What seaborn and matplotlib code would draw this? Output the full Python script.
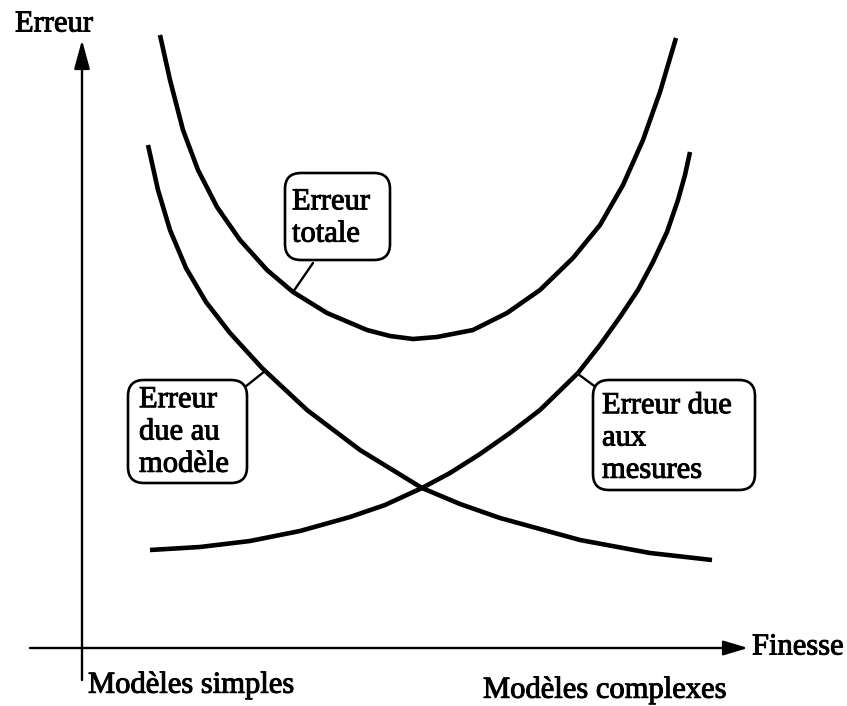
import matplotlib
matplotlib.use("Agg")
import matplotlib.pyplot as plt
from matplotlib.patches import FancyBboxPatch
import matplotlib.patheffects as pe
import pandas as pd
import seaborn as sns

# ---- data (x = finesse, y = erreur, arbitrary units) ----
total_x = [78, 88, 101, 116, 135, 158, 185, 211, 245, 285, 308, 331, 355, 391, 425, 458,
           491, 518, 541, 561, 578, 594]
total_y = [613, 568, 518, 478, 441, 408, 378, 356, 335, 318, 312, 309, 311, 318, 335, 358,
           390, 423, 463, 508, 556, 610]

modele_x = [66, 76, 88, 104, 124, 148, 180, 225, 278, 340, 378, 418, 498, 568, 630]
modele_y = [503, 458, 418, 380, 346, 315, 280, 238, 198, 160, 144, 130, 108, 95, 88]

mesure_x = [68, 118, 168, 218, 268, 303, 340, 368, 398, 428, 458, 496, 518, 538, 556,
            571, 585, 596, 603, 608]
mesure_y = [98, 101, 107, 117, 131, 143, 160, 175, 194, 215, 238, 275, 303, 331, 358,
            386, 416, 448, 473, 496]

series_names = ["Erreur totale", "Erreur due au modèle", "Erreur due aux mesures"]
box_labels = ["Erreur\ntotale", "Erreur\ndue au\nmodèle", "Erreur due\naux\nmesures"]
axis_y_label = "Erreur"
axis_x_label = "Finesse"
x_left_label = "Modèles simples"
x_right_label = "Modèles complexes"

df = pd.concat([
    pd.DataFrame({"x": total_x, "y": total_y, "serie": series_names[0]}),
    pd.DataFrame({"x": modele_x, "y": modele_y, "serie": series_names[1]}),
    pd.DataFrame({"x": mesure_x, "y": mesure_y, "serie": series_names[2]}),
])

sns.set_theme(style="white")
plt.rcParams["font.family"] = ["Liberation Serif", "DejaVu Serif"]

fig = plt.figure(figsize=(8.47, 7.06), dpi=100)
ax = fig.add_axes([0, 0, 1, 1])
ax.set_xlim(-82, 765)
ax.set_ylim(-58, 648)
ax.axis("off")

sns.lineplot(data=df, x="x", y="y", hue="serie", units="serie", estimator=None,
             palette=["black"] * 3, linewidth=3.3, legend=False, ax=ax,
             solid_capstyle="butt", solid_joinstyle="round")

# axes arrows
ax.annotate("", xy=(0, 608), xytext=(0, -32),
            arrowprops=dict(arrowstyle="-|>,head_length=1.1,head_width=0.3",
                            mutation_scale=16, lw=1.7, color="black",
                            shrinkA=0, shrinkB=0))
ax.annotate("", xy=(666, 0), xytext=(-52, 0),
            arrowprops=dict(arrowstyle="-|>,head_length=1.0,head_width=0.3",
                            mutation_scale=15, lw=1.7, color="black",
                            shrinkA=0, shrinkB=0))

fs = 22
ink = [pe.withStroke(linewidth=0.7, foreground="black")]
ax.text(-67, 624, axis_y_label, fontsize=fs, va="center", ha="left", color="black",
        path_effects=ink)
ax.text(670, 1, axis_x_label, fontsize=fs, va="center", ha="left", color="black",
        path_effects=ink)
ax.text(6, -37, x_left_label, fontsize=fs, va="center", ha="left", color="black",
        path_effects=ink)
ax.text(401, -42, x_right_label, fontsize=fs, va="center", ha="left", color="black",
        path_effects=ink)

# label boxes: (x0, y0, w, h), text anchor, connector
boxes = [
    ((203, 388, 105, 87), (210, 430), ((231, 385), (211, 356))),
    ((46, 165, 119, 103), (57, 216), ((163, 261), (183, 277))),
    ((511, 158, 162, 110), (520, 210), ((496, 274), (515, 260))),
]
for label, (rect, tpos, conn) in zip(box_labels, boxes):
    x0, y0, w, h = rect
    ax.add_patch(FancyBboxPatch((x0, y0), w, h,
                                boxstyle="round,pad=0,rounding_size=16",
                                fc="white", ec="black", lw=1.9, zorder=3))
    ax.text(tpos[0], tpos[1], label, fontsize=fs, va="center", ha="left",
            linespacing=1.15, color="black", zorder=4, path_effects=ink)
    (cx0, cy0), (cx1, cy1) = conn
    ax.plot([cx0, cx1], [cy0, cy1], color="black", lw=1.7, zorder=2)

fig.savefig("out.png", dpi=100, facecolor="white")
